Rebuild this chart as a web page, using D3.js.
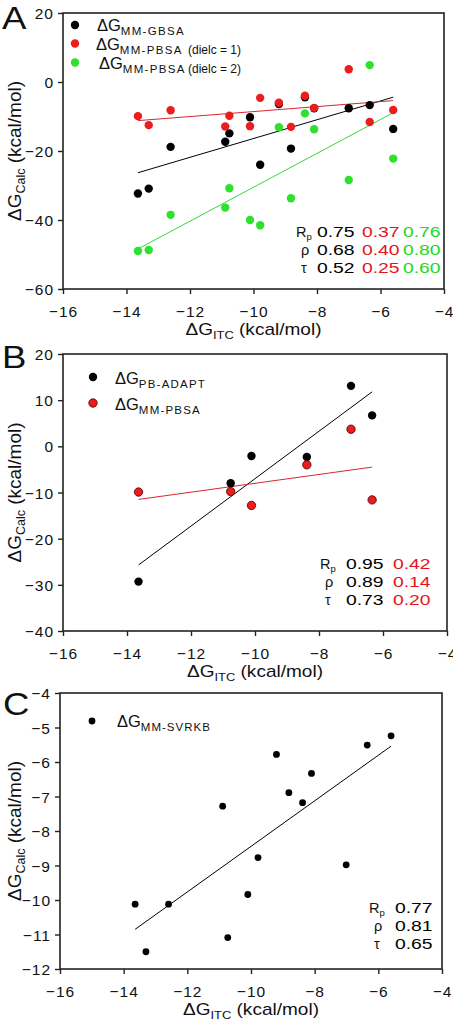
<!DOCTYPE html>
<html><head><meta charset="utf-8">
<script src="https://cdn.jsdelivr.net/npm/d3@7"></script>
<style>
body{margin:0;background:#fff}
svg{display:block}
text{font-family:"Liberation Sans",Arial,Helvetica,sans-serif;fill:#111}
</style>
</head><body>
<svg id="chart" width="453" height="1022"></svg>
<script>
// ---------- DATA ----------
const xTicks = [-16, -14, -12, -10, -8, -6, -4];

// Panel A
const aX    = [-13.64, -13.30, -12.61, -10.89, -10.76, -10.11, -9.79, -9.20, -8.82, -8.38, -8.09, -7.00, -6.34, -5.60];
const aGB   = [-32.3, -30.9, -18.8, -17.3, -14.9, -10.2, -24.0, -6.4, -19.3, -4.4, -7.6, -7.6, -6.7, -13.6];
const aPB1  = [-9.9, -12.5, -8.2, -12.9, -9.8, -12.8, -4.6, -6.0, -13.0, -4.0, -7.5, 3.7, -11.6, -8.1];
const aPB2  = [-49.0, -48.7, -38.5, -36.4, -30.8, -40.0, -41.5, -13.1, -33.7, -9.1, -13.7, -28.4, 4.9, -22.2];
const aFitGB  = [[-13.64, -26.3], [-5.60, -4.4]];
const aFitPB1 = [[-13.64, -11.2], [-5.60, -5.4]];
const aFitPB2 = [[-13.64, -48.4], [-5.60, -8.9]];
const aYTicks = [-60, -40, -20, 0, 20];
const aStatLabels = ["R", "ρ", "τ"];
const aStatsGB  = ["0.75", "0.68", "0.52"];
const aStatsPB1 = ["0.37", "0.40", "0.25"];
const aStatsPB2 = ["0.76", "0.80", "0.60"];

// Panel B
const bX     = [-13.64, -10.76, -10.11, -8.38, -7.00, -6.34];
const bADAPT = [-29.3, -8.0, -2.1, -2.3, 13.1, 6.7];
const bPBSA  = [-9.9, -9.8, -12.8, -4.0, 3.7, -11.6];
const bFitADAPT = [[-13.64, -25.7], [-6.34, 11.8]];
const bFitPBSA  = [[-13.64, -11.5], [-6.34, -4.5]];
const bYTicks = [-40, -30, -20, -10, 0, 10, 20];
const bStatsADAPT = ["0.95", "0.89", "0.73"];
const bStatsPBSA  = ["0.42", "0.14", "0.20"];

// Panel C
const cX     = [-13.64, -13.30, -12.59, -10.89, -10.73, -10.10, -9.78, -9.20, -8.81, -8.38, -8.10, -7.01, -6.35, -5.60];
const cSVRKB = [-10.12, -11.50, -10.12, -7.28, -11.09, -9.84, -8.77, -5.78, -6.89, -7.18, -6.33, -8.98, -5.51, -5.24];
const cFit   = [[-13.64, -10.85], [-5.60, -5.54]];
const cYTicks = [-12, -11, -10, -9, -8, -7, -6, -5, -4];
const cStats = ["0.77", "0.81", "0.65"];

// ---------- STYLE ----------
const BLACK = "#000", RED = "#ee1c1c", GREEN = "#2fe02f";
const RED_LINE = "#d8262f", GREEN_LINE = "#35d835";
const RED_TXT = "#e3141c", GREEN_TXT = "#22d822";

const svg = d3.select("#chart");

function rich(g, x, y, parts, opts = {}) {
  const t = g.append("text")
    .attr("transform", opts.transform || `translate(${x},${y})`)
    .attr("text-anchor", opts.anchor || "start")
    .style("font-size", (opts.size || 15) + "px");
  if (opts.fill) t.style("fill", opts.fill);
  let inSub = false;
  parts.forEach(p => {
    const ts = t.append("tspan").text(p.t);
    if (p.sub) {
      ts.style("font-size", (p.size || 11) + "px");
      if (p.ls) ts.style("letter-spacing", p.ls + "px");
      if (!inSub) ts.attr("dy", p.dy || 4);
      inSub = true;
    } else {
      if (p.size) ts.style("font-size", p.size + "px");
      if (inSub) ts.attr("dy", -(p.dyBack || 4));
      inSub = false;
    }
  });
  return t;
}

function panel(cfg) {
  const g = svg.append("g");
  const x = d3.scaleLinear().domain([-16, -4]).range([cfg.x0, cfg.x1]);
  const y = d3.scaleLinear().domain(cfg.yDomain).range([cfg.y1, cfg.y0]);

  // axes
  const xa = g.append("g").attr("transform", `translate(0,${cfg.y1})`)
    .call(d3.axisBottom(x).tickValues(xTicks).tickSize(5).tickSizeOuter(0).tickFormat(d3.format("d")));
  const ya = g.append("g").attr("transform", `translate(${cfg.x0},0)`)
    .call(d3.axisLeft(y).tickValues(cfg.yTicks).tickSize(5).tickPadding(4).tickSizeOuter(0).tickFormat(d3.format("d")));
  [xa, ya].forEach(a => {
    a.select(".domain").remove();
    a.selectAll("line").attr("stroke", "#222").attr("stroke-width", 1.4);
    a.selectAll("text").style("font-size", "15.5px").style("letter-spacing", "1px")
      .style("font-family", '"Liberation Sans",Arial,sans-serif').attr("fill", "#111");
  });
  xa.selectAll("text").attr("y", 16.5);
  ya.selectAll("text").attr("dy", "0.36em");

  // frame
  g.append("rect").attr("x", cfg.x0).attr("y", cfg.y0)
    .attr("width", cfg.x1 - cfg.x0).attr("height", cfg.y1 - cfg.y0)
    .attr("fill", "none").attr("stroke", "#222").attr("stroke-width", 1.6);

  // fit lines
  const line = d3.line().x(d => x(d[0])).y(d => y(d[1]));
  cfg.fits.forEach(f => {
    g.append("path").attr("d", line(f.pts)).attr("fill", "none")
      .attr("stroke", f.color).attr("stroke-width", 1);
  });

  // points
  cfg.series.forEach(s => {
    g.append("g").selectAll("circle").data(s.ys).join("circle")
      .attr("cx", (d, i) => x(cfg.xs[i])).attr("cy", d => y(d))
      .attr("r", cfg.r).attr("fill", s.color)
      .attr("stroke", s.stroke || "none").attr("stroke-width", 0.8);
  });

  // legend
  cfg.legend.forEach(l => {
    g.append("circle").attr("cx", l.mx).attr("cy", l.my).attr("r", cfg.r)
      .attr("fill", l.color).attr("stroke", l.stroke || "none").attr("stroke-width", 0.8);
    rich(g, l.tx, l.ty, [{t: "ΔG"}, {t: l.sub, sub: true, size: 11.5, ls: l.ls || 1.3}], {size: 16.5});
    if (l.extra) rich(g, l.ex, l.ey, [{t: l.extra}], {size: 12});
  });

  // stats
  cfg.stats.rows.forEach((row, i) => {
    const by = cfg.stats.y[i];
    const lab = aStatLabels[i];
    if (i === 0) rich(g, cfg.stats.lx, by, [{t: lab, size: 14.5}, {t: "p", sub: true, size: 9.5, dy: 3}], {size: 14.5});
    else rich(g, cfg.stats.lx + 5, by, [{t: lab}], {size: 14.5});
    row.forEach((v, j) => {
      g.append("text").attr("transform", `translate(${cfg.stats.cols[j]},${by}) scale(1.38,1)`)
        .style("font-size", "14px").style("fill", cfg.stats.colors[j]).text(v);
    });
  });

  // axis titles
  const cx = (cfg.x0 + cfg.x1) / 2;
  rich(g, 0, 0, [{t: "ΔG"}, {t: "ITC", sub: true, size: 11.5}, {t: " (kcal/mol)"}],
    {size: 17, anchor: "middle", transform: `translate(${cx},${cfg.y1 + 45.5}) scale(1.12,1)`});
  const cy = (cfg.y0 + cfg.y1) / 2;
  rich(g, 0, 0, [{t: "ΔG"}, {t: "Calc", sub: true, size: 12.5}, {t: " (kcal/mol)"}],
    {size: 19, anchor: "middle", transform: `translate(21,${cy}) rotate(-90)`});

  // panel letter
  g.append("text").attr("transform", `translate(${cfg.lab[1]},${cfg.lab[2]}) scale(1.18,1)`)
    .style("font-size", "31px").text(cfg.lab[0]);
}

function rows(...cols) { return cols[0].map((_, i) => cols.map(c => c[i])); }

panel({
  x0: 63, x1: 444, y0: 13, y1: 289, yDomain: [-60, 20], yTicks: aYTicks, r: 4.2,
  xs: aX,
  series: [{ys: aGB, color: BLACK}, {ys: aPB1, color: RED}, {ys: aPB2, color: GREEN}],
  fits: [{pts: aFitGB, color: BLACK}, {pts: aFitPB1, color: RED_LINE}, {pts: aFitPB2, color: GREEN_LINE}],
  legend: [
    {mx: 75, my: 25, color: BLACK, tx: 97, ty: 30.5, sub: "MM-GBSA"},
    {mx: 75, my: 43.5, color: RED, tx: 96, ty: 49.5, sub: "MM-PBSA", extra: "(dielc = 1)", ex: 188, ey: 53.5},
    {mx: 75, my: 62.5, color: GREEN, tx: 99, ty: 69, sub: "MM-PBSA", extra: "(dielc = 2)", ex: 188, ey: 73}
  ],
  stats: {lx: 296, y: [236.5, 255, 273.3], cols: [317, 362, 403],
    rows: rows(aStatsGB, aStatsPB1, aStatsPB2), colors: [BLACK, RED_TXT, GREEN_TXT]},
  lab: ["A", 2, 28.5]
});

panel({
  x0: 63, x1: 447, y0: 354, y1: 631, yDomain: [-40, 20], yTicks: bYTicks, r: 4.2,
  xs: bX,
  series: [{ys: bADAPT, color: BLACK}, {ys: bPBSA, color: RED, stroke: "#400"}],
  fits: [{pts: bFitADAPT, color: BLACK}, {pts: bFitPBSA, color: RED_LINE}],
  legend: [
    {mx: 93, my: 377, color: BLACK, tx: 115, ty: 384, sub: "PB-ADAPT", ls: 1.2},
    {mx: 93, my: 403, color: RED, stroke: "#400", tx: 115, ty: 410, sub: "MM-PBSA", ls: 1.2}
  ],
  stats: {lx: 320, y: [569, 587, 605], cols: [346, 393],
    rows: rows(bStatsADAPT, bStatsPBSA), colors: [BLACK, RED_TXT]},
  lab: ["B", 2, 368]
});

panel({
  x0: 60, x1: 442, y0: 693, y1: 969, yDomain: [-12, -4], yTicks: cYTicks, r: 3.4,
  xs: cX,
  series: [{ys: cSVRKB, color: BLACK}],
  fits: [{pts: cFit, color: BLACK}],
  legend: [
    {mx: 92, my: 721, color: BLACK, tx: 117, ty: 727, sub: "MM-SVRKB", ls: 1.0}
  ],
  stats: {lx: 369, y: [913, 931, 949], cols: [395],
    rows: rows(cStats), colors: [BLACK]},
  lab: ["C", 3, 715]
});
</script>
</body></html>
